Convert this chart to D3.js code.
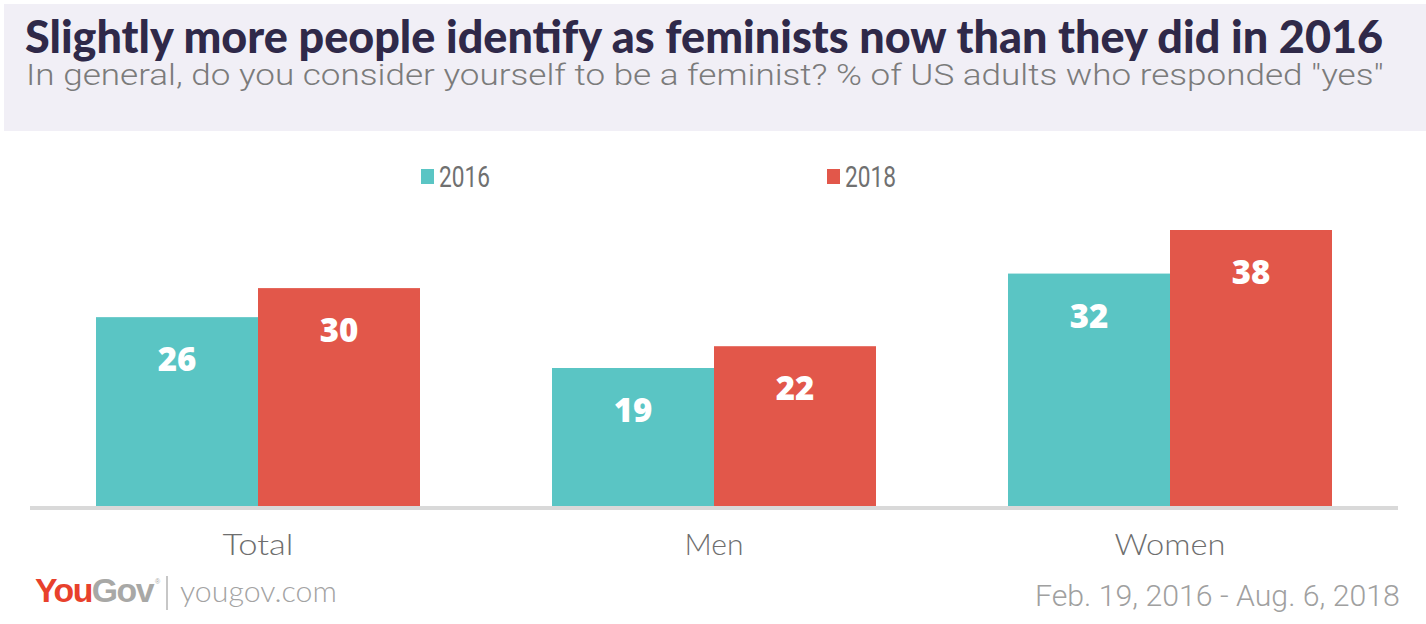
<!DOCTYPE html>
<html>
<head>
<meta charset="utf-8">
<script src="https://cdn.jsdelivr.net/npm/d3@7"></script>
<style>
  html, body { margin: 0; padding: 0; background: #ffffff; }
  svg { display: block; }
</style>
</head>
<body>
<svg id="chart" width="1426" height="624"></svg>
<script>
const titleText = "Slightly more people identify as feminists now than they did in 2016";
const subtitleText = "In general, do you consider yourself to be a feminist? % of US adults who responded \"yes\"";
const categories = ["Total", "Men", "Women"];
const seriesNames = ["2016", "2018"];
const values2016 = [26, 19, 32];
const values2018 = [30, 22, 38];
const dateText = "Feb. 19, 2016 - Aug. 6, 2018";

const colors = { "2016": "#5ac5c4", "2018": "#e2574a" };
const seriesValues = { "2016": values2016, "2018": values2018 };
const data = categories.map((c, i) => ({ cat: c, vals: seriesNames.map(s => ({ s, v: seriesValues[s][i] })) }));

const svg = d3.select("#chart");

// fit font size to a target width
function fit(sel, target) {
  const node = sel.node();
  let fs = parseFloat(sel.attr("font-size"));
  for (let k = 0; k < 3; k++) {
    const w = node.getComputedTextLength();
    if (w > 0) { fs = fs * target / w; sel.attr("font-size", fs); }
  }
}
// keep font size (height), squeeze/stretch horizontally to a target width
function fitX(sel, target, ax) {
  const w = sel.node().getComputedTextLength();
  if (w > 0) {
    const k = target / w;
    sel.attr("transform", `translate(${ax},0) scale(${k},1) translate(${-ax},0)`);
  }
}

// header
svg.append("rect").attr("x", 4).attr("y", 4).attr("width", 1422).attr("height", 127).attr("fill", "#f1eff6");
const t = svg.append("text").attr("x", 25).attr("y", 53)
  .attr("font-family", "Lato, 'Open Sans', sans-serif").attr("font-weight", 900)
  .attr("font-size", 42).attr("fill", "#2f2949").text(titleText);
fit(t, 1358);
const st = svg.append("text").attr("x", 26).attr("y", 85)
  .attr("font-family", "Roboto, Lato, sans-serif").attr("font-weight", 300)
  .attr("font-size", 30).attr("fill", "#7b7b7b").text(subtitleText);
fitX(st, 1358, 26);

// scales
const x0 = d3.scaleBand().domain(categories).range([30, 1398]).paddingInner(132 / 456).paddingOuter(66 / 456);
const x1 = d3.scaleBand().domain(seriesNames).range([0, x0.bandwidth()]).padding(0);
const y = d3.scaleLinear().domain([0, 38]).range([506, 230]);

// legend
const legendX = { "2016": 421, "2018": 827 };
seriesNames.forEach(s => {
  svg.append("rect").attr("x", legendX[s]).attr("y", 169).attr("width", 13).attr("height", 15).attr("fill", colors[s]);
  const lt = svg.append("text").attr("x", legendX[s] + 18).attr("y", 187)
    .attr("font-family", "Roboto, sans-serif").attr("font-weight", 400)
    .attr("font-size", 29).attr("fill", "#707070").text(s);
  fitX(lt, 51, legendX[s] + 18);
});

// bars
const g = svg.append("g").selectAll("g").data(data).join("g")
  .attr("transform", d => `translate(${x0(d.cat)},0)`);
g.selectAll("rect").data(d => d.vals).join("rect")
  .attr("x", d => x1(d.s)).attr("width", x1.bandwidth())
  .attr("y", d => y(d.v)).attr("height", d => y(0) - y(d.v))
  .attr("fill", d => colors[d.s]);
g.selectAll("text.val").data(d => d.vals).join("text").attr("class", "val")
  .attr("x", d => x1(d.s) + x1.bandwidth() / 2).attr("y", d => y(d.v) + 54)
  .attr("text-anchor", "middle")
  .attr("font-family", "'Open Sans', 'DejaVu Sans', sans-serif").attr("font-weight", 800)
  .attr("font-size", 33).attr("fill", "#ffffff").text(d => d.v);

// baseline
svg.append("line").attr("x1", x0.range()[0]).attr("x2", x0.range()[1])
  .attr("y1", 508).attr("y2", 508).attr("stroke", "#d9d9d9").attr("stroke-width", 4);

// x axis labels
const catWidths = { "Total": 71, "Men": 59, "Women": 111 };
const xAxis = d3.axisBottom(x0).tickSize(0).tickPadding(0);
const ax = svg.append("g").attr("transform", "translate(0,555)").call(xAxis);
ax.select(".domain").remove();
ax.selectAll(".tick text").attr("dy", 0).attr("y", 0)
  .attr("font-family", "Lato, 'Open Sans', sans-serif").attr("font-weight", 300)
  .attr("font-size", 30).attr("fill", "#6e6e6e")
  .each(function (d) { fitX(d3.select(this), catWidths[d], 0); });

// footer
const logo = svg.append("text").attr("x", 35).attr("y", 602)
  .attr("font-family", "'Liberation Sans', Arial, sans-serif").attr("font-weight", 700)
  .attr("font-size", 30).attr("letter-spacing", -1.5);
logo.append("tspan").attr("fill", "#e8412c").text("You");
logo.append("tspan").attr("fill", "#a8a8a6").text("Gov");
fit(logo, 118);
svg.append("text").attr("x", 155).attr("y", 584).attr("font-size", 7)
  .attr("font-family", "sans-serif").attr("fill", "#a8a8a6").text("®");
svg.append("line").attr("x1", 167).attr("x2", 167).attr("y1", 576).attr("y2", 610)
  .attr("stroke", "#b5b5b5").attr("stroke-width", 1.5);
const yg = svg.append("text").attr("x", 180).attr("y", 602)
  .attr("font-family", "Lato, 'Open Sans', sans-serif").attr("font-weight", 300)
  .attr("font-size", 28).attr("fill", "#a3a3a3").text("yougov.com");
fit(yg, 157);
const dt = svg.append("text").attr("x", 1035).attr("y", 606)
  .attr("font-family", "Roboto, Lato, sans-serif").attr("font-weight", 300)
  .attr("font-size", 29).attr("fill", "#a0a0a0").text(dateText);
fitX(dt, 365, 1035);
</script>
</body>
</html>
